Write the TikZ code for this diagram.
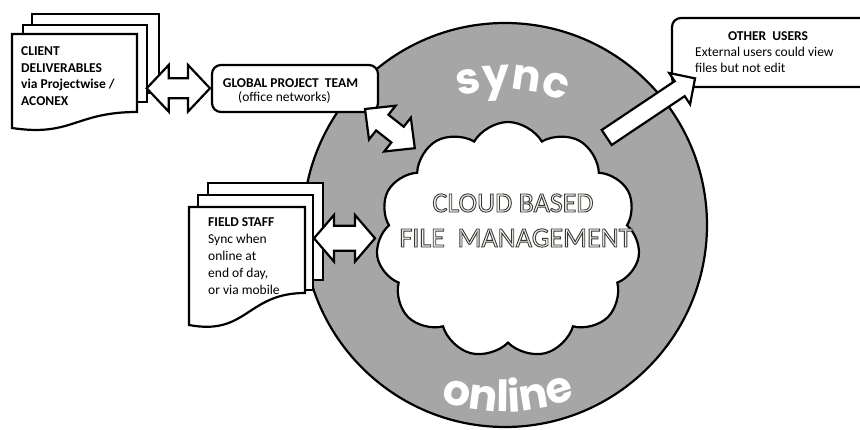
\documentclass[tikz,border=0pt]{standalone}
\usepackage{fontspec}
\setmainfont{Carlito}
\newfontfamily\roundfont{Poppins}
\usetikzlibrary{shapes.symbols,decorations.text,calc}
\definecolor{ringgray}{HTML}{A6A6A6}
\definecolor{cream}{HTML}{F6F4EA}
\newcommand\syncfont{\roundfont\bfseries\fontsize{43}{43}\selectfont\color{white}}
\newcommand\onlinefont{\roundfont\bfseries\fontsize{43}{43}\selectfont\color{white}}
\newcommand\outltext[1]{\special{pdf:literal direct 2 Tr 0.9 w 0.22 0.22 0.22 RG}#1\special{pdf:literal direct 0 Tr}}
\tikzset{
  docline/.style={line width=2.2pt, draw=black, fill=white, line join=miter},
  blockarrow/.style={line width=2.2pt, draw=black, fill=white, line join=miter},
  boxstyle/.style={line width=2.2pt, draw=black, fill=white, rounded corners=9pt, inner sep=0pt},
  smalltxt/.style={inner sep=0pt, font=\fontsize{13.5}{16}\selectfont},
  cloudtxt/.style={inner sep=0pt, font=\fontsize{28}{28}\selectfont, text=cream},
  pics/dblarr/.style n args={4}{code={
    \draw[blockarrow] (0,0) -- (#4,#3) -- (#4,#2) -- ({#1-#4},#2) -- ({#1-#4},#3) -- (#1,0)
      -- ({#1-#4},-#3) -- ({#1-#4},-#2) -- (#4,-#2) -- (#4,-#3) -- cycle;}},
  pics/sglarr/.style n args={4}{code={
    \draw[blockarrow] (0,#2) -- ({#1-#4},#2) -- ({#1-#4},#3) -- (#1,0)
      -- ({#1-#4},-#3) -- ({#1-#4},-#2) -- (0,-#2) -- cycle;}},
}
\begin{document}
\begin{tikzpicture}[x=1pt,y=-1pt]
\useasboundingbox (0,0) rectangle (860,430);
\clip (0,0) rectangle (860,430);
\fill[white] (0,0) rectangle (860,430);

% ring
\node[circle, draw=black, fill=ringgray, line width=2.2pt, minimum size=404pt, inner sep=0pt] (ring) at (505,225) {};
\path[decorate, decoration={text along path, text={|\syncfont|sync}, text align=center}]
  ($(ring.center)+(-120:136)$) arc[start angle=-120, end angle=-54, radius=136];
\path[decorate, decoration={text along path, text={|\onlinefont|online}, text align=center}]
  ($(ring.center)+(116:187)$) arc[start angle=116, end angle=62, radius=187];

% cloud
\node[cloud, draw=black, fill=white, line width=2.2pt, cloud puffs=11, cloud puff arc=120,
  cloud ignores aspect, minimum width=264pt, minimum height=236pt, inner sep=0pt] (cloud) at (508,240) {};
\node[cloudtxt, anchor=base] (cloud1) at (513,212) {\outltext{CLOUD BASED}};
\node[cloudtxt, anchor=base] (cloud2) at (516,247) {\outltext{FILE\ \ MANAGEMENT}};

% client deliverables
\draw[docline] (32,14) rectangle (159,93);
\draw[docline] (23,25) rectangle (147,102);
\draw[docline] (12,34) -- (137,34) -- (137,112) .. controls (75,112) and (72,137) .. (12,128) -- cycle;
\node[smalltxt, anchor=base west, font=\fontsize{13.5}{16}\selectfont\bfseries] (client1) at (21,56) {CLIENT};
\node[smalltxt, anchor=base west, font=\fontsize{13.5}{16}\selectfont\bfseries] (client2) at (21,73) {DELIVERABLES};
\node[smalltxt, anchor=base west, font=\fontsize{13.5}{16}\selectfont\bfseries] (client3) at (21,89) {via Projectwise /};
\node[smalltxt, anchor=base west, font=\fontsize{13.5}{16}\selectfont\bfseries] (client4) at (21,106) {ACONEX};

% global project team
\node[boxstyle, minimum width=166pt, minimum height=47pt] (global) at (295,88.5) {};
\node[smalltxt, anchor=base, font=\fontsize{13.5}{16}\selectfont\bfseries] (global1) at (290.5,88) {GLOBAL PROJECT\ \ TEAM};
\node[smalltxt, anchor=base] (global2) at (284.5,101.5) {(office networks)};

% other users
\node[boxstyle, minimum width=210pt, minimum height=69pt] (other) at (777,52.5) {};
\node[smalltxt, anchor=base, font=\fontsize{13.5}{16}\selectfont\bfseries] (other1) at (768,41) {OTHER\ \ USERS};
\node[smalltxt, anchor=base west] (other2) at (695,57) {External users could view};
\node[smalltxt, anchor=base west] (other3) at (695,73) {files but not edit};

% field staff
\draw[docline] (208,183) rectangle (323,280);
\draw[docline] (198,195) rectangle (313,290);
\draw[docline] (189,207) -- (305,207) -- (305,293) .. controls (247,293) and (247,336) .. (189,325) -- cycle;
\node[smalltxt, anchor=base west, font=\fontsize{13.5}{16}\selectfont\bfseries] (field1) at (208,227) {FIELD STAFF};
\node[smalltxt, anchor=base west] (field2) at (208,244) {Sync when};
\node[smalltxt, anchor=base west] (field3) at (208,261) {online at};
\node[smalltxt, anchor=base west] (field4) at (208,278) {end of day,};
\node[smalltxt, anchor=base west] (field5) at (208,295) {or via mobile};

% connectors
\coordinate (ctip) at (146.7,88.3);
\pic at (ctip) {dblarr={63.3}{10}{23.3}{22}};
\coordinate (gtip) at (365,109);
\pic[rotate=-38.2] at (gtip) {dblarr={63.4}{10}{21.5}{22}};
\coordinate (ftip) at (314,238.3);
\pic at (ftip) {dblarr={61}{12.5}{23.3}{20}};
\coordinate (otail) at (606.7,137.5);
\pic[rotate=33.8] at (otail) {sglarr={106.3}{9}{18.8}{18.5}};
\end{tikzpicture}
\end{document}
